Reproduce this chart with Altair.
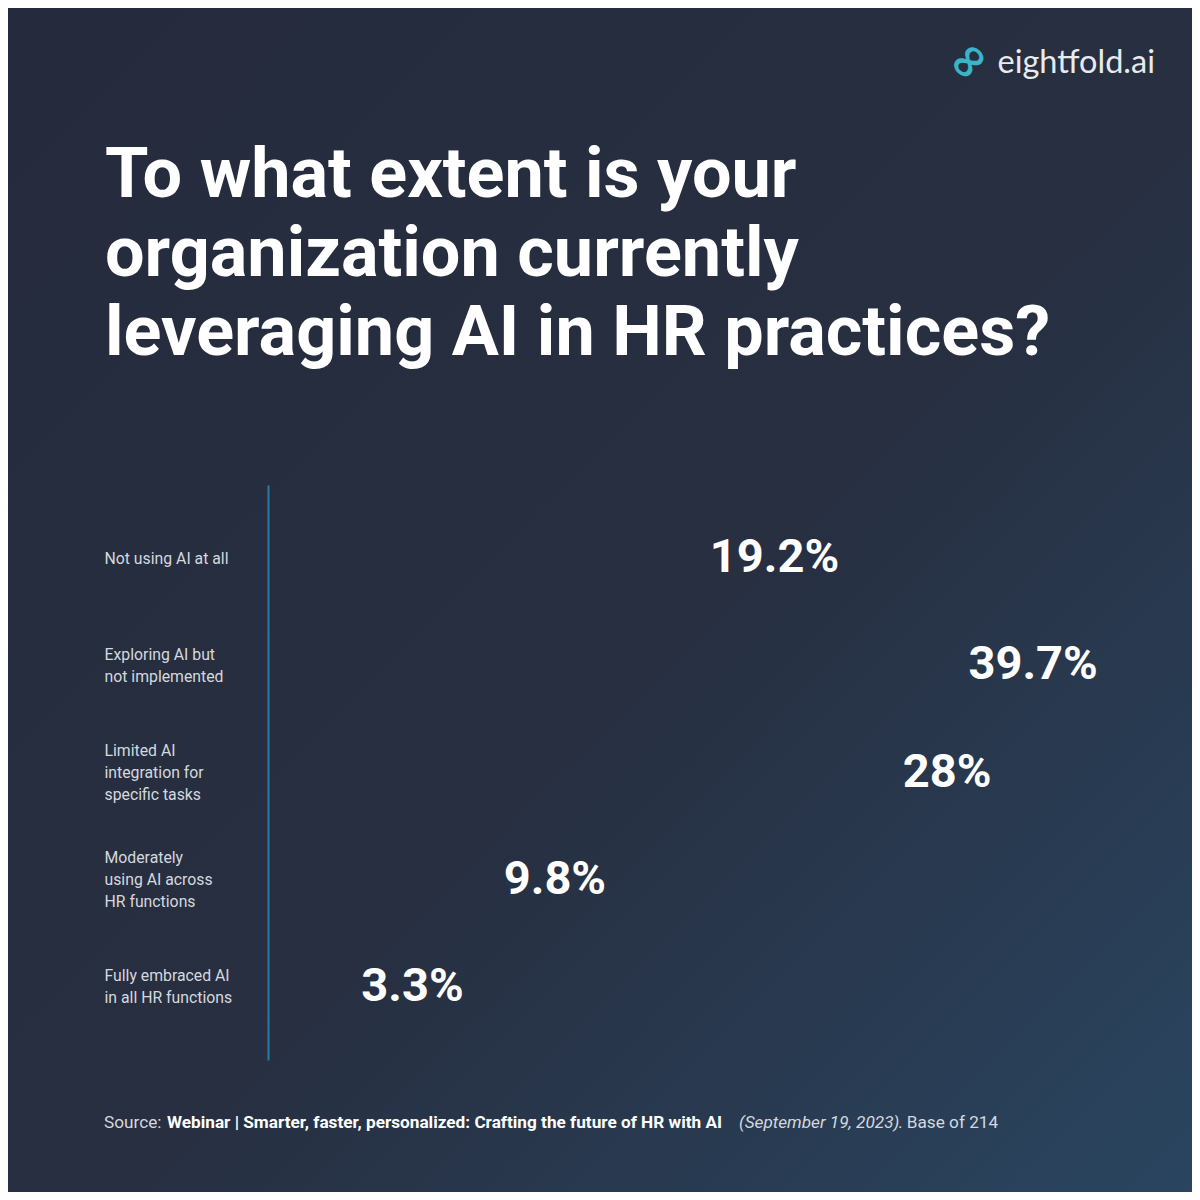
import altair as alt
import pandas as pd

# ---- data ----
categories = [
    "Not using AI at all",
    "Exploring AI but\nnot implemented",
    "Limited AI\nintegration for\nspecific tasks",
    "Moderately\nusing AI across\nHR functions",
    "Fully embraced AI\nin all HR functions",
]
values = [19.2, 39.7, 28.0, 9.8, 3.3]
value_labels = ["19.2%", "39.7%", "28%", "9.8%", "3.3%"]

title_lines = [
    "To what extent is your",
    "organization currently",
    "leveraging AI in HR practices?",
]
brand = "eightfold.ai"
source_parts = [
    ("Source:", "normal", "normal", 96),
    ("Webinar | Smarter, faster, personalized: Crafting the future of HR with AI", "bold", "normal", 159),
    ("(September 19, 2023)", "normal", "italic", 731),
    (". Base of 214", "normal", "normal", 890),
]

W = 1184
H = 1184
FONT = "Roboto"

df = pd.DataFrame({"category": categories, "value": values, "label": value_labels})

background = alt.Chart(alt.Data(values=[{"k": 1}])).mark_rect(
    fill=alt.Gradient(
        gradient="linear",
        stops=[
            alt.GradientStop(color="#252b3c", offset=0),
            alt.GradientStop(color="#272f41", offset=0.55),
            alt.GradientStop(color="#2a4560", offset=1),
        ],
        x1=0, y1=0, x2=1, y2=1,
    )
).encode(x=alt.value(0), x2=alt.value(W), y=alt.value(0), y2=alt.value(H))

n_lines = "length(split(datum.value, '\\n'))"
y_axis = alt.Axis(
    orient="left",
    offset=-260,
    zindex=2,
    title=None,
    ticks=False,
    grid=False,
    domainColor="#2d7aa3",
    domainWidth=2,
    labelAlign="left",
    labelBaseline="middle",
    labelPadding=164,
    labelExpr="split(datum.label, '\\n')",
    labelFont=FONT,
    labelFontSize=15.8,
    labelColor="#d5d8de",
    labelLineHeight=22,
    labelLimit=400,
    labelOverlap=False,
    labelOffset={
        "condition": [
            {"test": f"{n_lines} == 3", "value": -22},
            {"test": f"{n_lines} == 2", "value": -11},
        ],
        "value": 0,
    },
)

values_layer = alt.Chart(df).mark_text(
    align="left", baseline="middle", dx=21,
    font=FONT, fontWeight="bold", fontSize=47, color="#ffffff",
).encode(
    x=alt.X("value:Q", scale=alt.Scale(domain=[0, 31], range=[260, 939.5], clamp=True), axis=None),
    y=alt.Y("category:N", sort=categories,
            scale=alt.Scale(type="point", range=[477, 1052], padding=0.685),
            axis=y_axis),
    text="label:N",
)

title_layer = alt.Chart(alt.Data(values=[{"t": "\n".join(title_lines)}])).mark_text(
    align="left", baseline="alphabetic", lineBreak="\n", lineHeight=79,
    font=FONT, fontWeight="bold", fontSize=70.2, color="#ffffff",
).encode(x=alt.value(97), y=alt.value(189), text="t:N")

brand_layer = alt.Chart(alt.Data(values=[{"t": brand}])).mark_text(
    align="right", baseline="alphabetic",
    font="Lato", fontSize=32.5, color="#e8eaee",
).encode(x=alt.value(1147), y=alt.value(65), text="t:N")

icon_layer = alt.Chart(alt.Data(values=[{"t": "\u221e"}])).mark_text(
    align="center", baseline="middle", angle=315,
    font="DejaVu Sans", fontWeight="bold", fontSize=48, color="#3ab4c6",
).encode(x=alt.value(961), y=alt.value(54), text="t:N")

src_layers = []
for txt, weight, style, xpos in source_parts:
    src_layers.append(
        alt.Chart(alt.Data(values=[{"t": txt}])).mark_text(
            align="left", baseline="alphabetic",
            font=FONT, fontSize=17.2, fontWeight=weight, fontStyle=style,
            color="#ffffff" if weight == "bold" else "#d5d8de",
        ).encode(x=alt.value(xpos), y=alt.value(1120), text="t:N")
    )

chart = alt.layer(
    background, values_layer, title_layer, brand_layer, icon_layer, *src_layers
).properties(
    width=W, height=H,
    autosize=alt.AutoSizeParams(type="none"),
    padding=0,
    background="#252b3c",
).configure_view(stroke=None)

chart.save("out.html", embed_options={"renderer": "svg", "actions": False})
